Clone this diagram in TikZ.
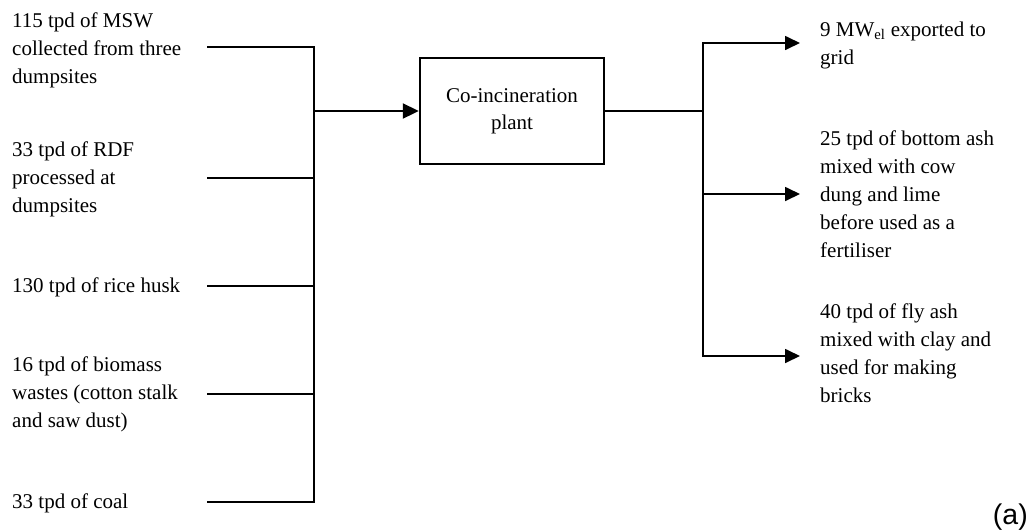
\documentclass[tikz,border=0pt]{standalone}
\usepackage{fontspec}
\setmainfont{Liberation Serif}
\newfontfamily\arialfont{Liberation Sans}
\usetikzlibrary{arrows.meta}
\begin{document}
\begin{tikzpicture}[x=1pt,y=-1pt,
  lbl/.style={anchor=base west, inner sep=0pt, align=left, font=\fontsize{21}{28}\selectfont},
  plantbox/.style={draw, line width=2.5pt, minimum width=184pt, minimum height=106pt, inner sep=0pt, align=center, font=\fontsize{21}{27}\selectfont},
  feed/.style={line width=1.8pt, line cap=rect},
  mainflow/.style={line width=2.3pt, -{Triangle[length=16pt,width=15pt]}},
  outflow/.style={line width=1.7pt, line cap=rect},
  bothtips/.style={{Triangle[length=15pt,width=14pt]}-{Triangle[length=15pt,width=14pt]}},
  endtip/.style={-{Triangle[length=15pt,width=14pt]}}
]
\useasboundingbox (0,0) rectangle (1030,531);

% input labels (anchored at the baseline of their last line)
\node[lbl] (L1) at (12,83) {115 tpd of MSW\\collected from three\\dumpsites};
\node[lbl] (L2) at (12,212) {33 tpd of RDF\\processed at\\dumpsites};
\node[lbl] (L3) at (12,292) {130 tpd of rice husk};
\node[lbl] (L4) at (12,427) {16 tpd of biomass\\wastes (cotton stalk\\and saw dust)};
\node[lbl] (L5) at (12,508) {33 tpd of coal};

% feed line start points and junctions
\coordinate (s1) at (208,47);
\coordinate (s2) at (208,178);
\coordinate (s3) at (208,286);
\coordinate (s4) at (208,394);
\coordinate (s5) at (208,502);
\coordinate (j1) at (314,47);
\coordinate (j2) at (314,178);
\coordinate (j3) at (314,286);
\coordinate (j4) at (314,394);
\coordinate (j5) at (314,502);
\coordinate (jm) at (314,111);

% plant
\node[plantbox] (P) at (512,111) {Co-incineration\\plant};

% outputs
\coordinate (ko) at (703,111);
\coordinate (k1) at (703,43);
\coordinate (k2) at (703,194);
\coordinate (k3) at (703,356);
\coordinate (t1) at (800,43);
\coordinate (t2) at (800,194);
\coordinate (t3) at (800,356);

\node[lbl] (R1) at (820,64) {9 MW\textsubscript{el} exported to\\grid};
\node[lbl] (R2) at (820,257) {25 tpd of bottom ash\\mixed with cow\\dung and lime\\before used as a\\fertiliser};
\node[lbl] (R3) at (820,402) {40 tpd of fly ash\\mixed with clay and\\used for making\\bricks};

\node[anchor=base east, inner sep=0pt, font=\arialfont\fontsize{28.5}{30}\selectfont] (A) at (1028,524) {(a)};

% feed connectors
\draw[feed] (s1) -- (j1) -- (j5) -- (s5);
\draw[feed] (s2) -- (j2);
\draw[feed] (s3) -- (j3);
\draw[feed] (s4) -- (j4);
\draw[mainflow] (jm) -- (P.west);

% output connectors
\draw[outflow] (P.east) -- (ko);
\draw[outflow, bothtips] (t1) -- (k1) -- (k3) -- (t3);
\draw[outflow, endtip] (k2) -- (t2);
\end{tikzpicture}
\end{document}
